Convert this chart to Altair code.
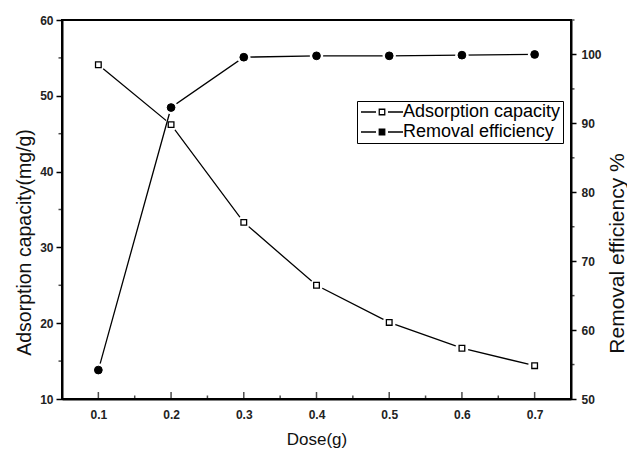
import altair as alt
import pandas as pd

# Dose of adsorbent (g) and the two measured responses
dose = [0.1, 0.2, 0.3, 0.4, 0.5, 0.6, 0.7]
capacity = [54.1, 46.2, 33.3, 25.0, 20.1, 16.7, 14.4]      # mg/g
removal = [54.2, 92.3, 99.6, 99.8, 99.8, 99.9, 100.0]      # %

# Axis tick positions
x_major = [0.1, 0.2, 0.3, 0.4, 0.5, 0.6, 0.7]
x_minor = [0.15, 0.25, 0.35, 0.45, 0.55, 0.65]
cap_major = [10, 20, 30, 40, 50, 60]
cap_minor = [15, 25, 35, 45, 55]
rem_major = [50, 60, 70, 80, 90, 100]
rem_minor = [55, 65, 75, 85, 95, 105]

SERIES = ["Adsorption capacity", "Removal efficiency"]

W, H = 509, 379
FONT = "Liberation Sans"

df = pd.DataFrame({"dose": dose, "capacity": capacity, "removal": removal})

AX = dict(
    labelFont=FONT, labelFontSize=12, labelFontWeight="bold", labelColor="#222",
    titleFont=FONT, titleFontWeight="normal", titleColor="#111",
    domainColor="black", domainWidth=2, tickColor="black", tickWidth=1.5, grid=False,
)

x_enc = alt.X(
    "dose:Q",
    scale=alt.Scale(domain=[0.05, 0.75], nice=False, zero=False),
    axis=alt.Axis(title="Dose(g)", values=x_major, format=".1f", ticks=False,
                  labelPadding=10, titleFontSize=17, titlePadding=11, **AX),
)
cap_y = alt.Y(
    "capacity:Q",
    scale=alt.Scale(domain=[10, 60], nice=False, zero=False),
    axis=alt.Axis(title="Adsorption capacity(mg/g)", orient="left", values=cap_major,
                  tickSize=6, labelPadding=3, titleFontSize=19.5, titleAngle=270,
                  titleBaseline="middle", titleX=-38, titleY=222, **AX),
)
rem_y = alt.Y(
    "removal:Q",
    scale=alt.Scale(domain=[50, 105], nice=False, zero=False),
    axis=alt.Axis(title="Removal efficiency %", orient="right", values=rem_major,
                  tickSize=5, labelPadding=5, titleAngle=270, titleFontSize=21,
                  titleBaseline="middle", titleX=46, titleY=233, **AX),
)

# legend symbol: line - marker - line
P_SYM = "M-4.2,0H-1.2M1.2,0H4.2M-0.55,-0.55H0.55V0.55H-0.55Z"

legend = alt.Legend(
    title=None, orient="none", legendX=295, legendY=81, direction="vertical",
    strokeColor="black", fillColor="white", padding=2,
    labelFont=FONT, labelFontSize=18, labelColor="black",
    symbolType=P_SYM, symbolSize=100, symbolStrokeWidth=1.3, symbolStrokeColor="black",
    symbolOpacity=1, symbolOffset=14, labelOffset=12, rowPadding=2,
)
fill_scale = alt.Scale(domain=SERIES, range=["white", "black"])

base = alt.Chart(df)

cap_line = base.mark_line(color="black", strokeWidth=1.3).encode(x=x_enc, y=cap_y)
cap_halo = base.mark_point(shape="circle", size=170, filled=True, color="white",
                           opacity=1).encode(x=x_enc, y=cap_y)
cap_pts = base.transform_calculate(series=f"'{SERIES[0]}'").mark_point(
    shape="square", size=32, filled=True, stroke="black", strokeWidth=1.3, opacity=1
).encode(x=x_enc, y=cap_y, fill=alt.Fill("series:N", scale=fill_scale, legend=legend))

# inward ticks on the dose axis
x_major_ticks = alt.Chart(pd.DataFrame({"dose": x_major})).mark_tick(
    orient="vertical", size=7, thickness=1.5, color="black"
).encode(x=x_enc, y=alt.value(H - 3.5))
x_minor_ticks = alt.Chart(pd.DataFrame({"dose": x_minor})).mark_tick(
    orient="vertical", size=3.5, thickness=1.5, color="black"
).encode(x=x_enc, y=alt.value(H - 1.75))
cap_minor_ticks = alt.Chart(pd.DataFrame({"capacity": cap_minor})).mark_tick(
    orient="horizontal", size=3.5, thickness=1.5, color="black"
).encode(y=cap_y, x=alt.value(-1.75))

rem_line = base.mark_line(color="black", strokeWidth=1.3).encode(x=x_enc, y=rem_y)
rem_halo = base.mark_point(shape="circle", size=180, filled=True, color="white",
                           opacity=1).encode(x=x_enc, y=rem_y)
rem_pts = base.transform_calculate(series=f"'{SERIES[1]}'").mark_point(
    shape="circle", size=60, filled=True, stroke="black", strokeWidth=1, opacity=1
).encode(x=x_enc, y=rem_y, fill=alt.Fill("series:N", scale=fill_scale, legend=legend))
rem_minor_ticks = alt.Chart(pd.DataFrame({"removal": rem_minor})).mark_tick(
    orient="horizontal", size=3.5, thickness=1.5, color="black"
).encode(y=rem_y, x=alt.value(W + 1.75))

left = alt.layer(cap_line, cap_halo, cap_pts, x_major_ticks, x_minor_ticks, cap_minor_ticks)
right = alt.layer(rem_line, rem_halo, rem_pts, rem_minor_ticks)

chart = (
    alt.layer(left, right)
    .resolve_scale(y="independent")
    .properties(
        width=W, height=H,
        padding={"left": 62, "top": 20, "right": 56, "bottom": 51},
        autosize=alt.AutoSizeParams(type="none"),
        background="white",
    )
    .configure(font=FONT)
    .configure_view(stroke="black", strokeWidth=2)
)

chart.save("out.html", embed_options={"renderer": "svg", "actions": False})
